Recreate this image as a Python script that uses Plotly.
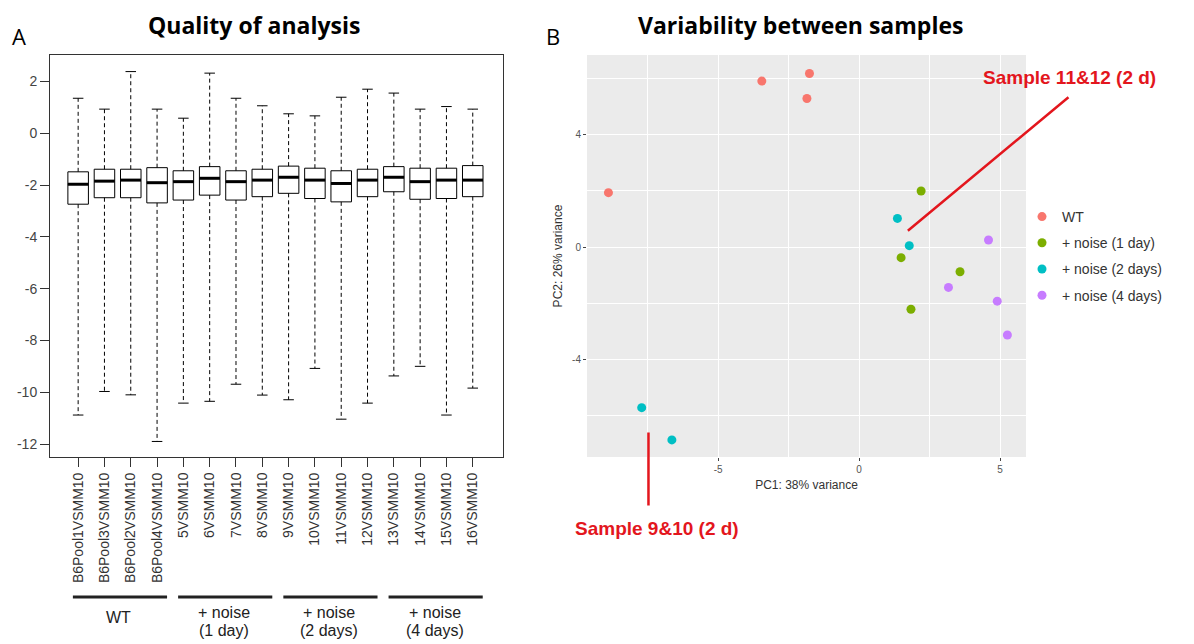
import plotly.graph_objects as go

# ---------------- Data: panel A (box plot summary statistics) ----------------
sample_labels = ["B6Pool1VSMM10", "B6Pool3VSMM10", "B6Pool2VSMM10", "B6Pool4VSMM10",
                 "5VSMM10", "6VSMM10", "7VSMM10", "8VSMM10",
                 "9VSMM10", "10VSMM10", "11VSMM10", "12VSMM10",
                 "13VSMM10", "14VSMM10", "15VSMM10", "16VSMM10"]
box_q1 = [-2.74, -2.49, -2.49, -2.69, -2.58, -2.39, -2.58, -2.45,
          -2.32, -2.52, -2.65, -2.45, -2.26, -2.55, -2.52, -2.45]
box_median = [-1.97, -1.85, -1.81, -1.91, -1.87, -1.74, -1.87, -1.81,
              -1.70, -1.81, -1.94, -1.81, -1.70, -1.87, -1.81, -1.81]
box_q3 = [-1.49, -1.39, -1.39, -1.33, -1.45, -1.29, -1.45, -1.39,
          -1.27, -1.35, -1.45, -1.39, -1.29, -1.35, -1.35, -1.25]
whisker_upper = [1.35, 0.93, 2.38, 0.93, 0.58, 2.32, 1.35, 1.06,
                 0.75, 0.67, 1.39, 1.70, 1.55, 0.93, 1.03, 0.93]
whisker_lower = [-10.88, -9.97, -10.10, -11.90, -10.42, -10.35, -9.69, -10.11,
                 -10.29, -9.08, -11.04, -10.42, -9.37, -9.00, -10.88, -9.84]
y_ticks_a = [2, 0, -2, -4, -6, -8, -10, -12]

group_lines = [["WT"], ["+ noise", "(1 day)"], ["+ noise", "(2 days)"], ["+ noise", "(4 days)"]]
group_first = [1, 5, 9, 13]
group_last = [4, 8, 12, 16]

# ---------------- Data: panel B (PCA) ----------------
pca_groups = ["WT", "+ noise (1 day)", "+ noise (2 days)", "+ noise (4 days)"]
pca_colors = ["#F8766D", "#7CAE00", "#00BFC4", "#C77CFF"]
pc1_values = [[-8.89, -3.45, -1.76, -1.85],
              [2.20, 1.49, 3.58, 1.84],
              [1.36, 1.78, -7.71, -6.64],
              [4.59, 3.17, 4.90, 5.26]]
pc2_values = [[1.94, 5.92, 6.19, 5.30],
              [2.00, -0.38, -0.88, -2.22],
              [1.02, 0.05, -5.73, -6.88],
              [0.25, -1.44, -1.93, -3.14]]
x_ticks_b = [-5, 0, 5]
y_ticks_b = [-4, 0, 4]

# ---------------- Layout helpers (page has an 8px body margin) ----------------
OFF = 8
W, H = 1194 - OFF, 644 - OFF


def px(x):
    return (x - OFF) / W


def py(y):
    return 1 - (y - OFF) / H


positions = list(range(1, len(sample_labels) + 1))
BOX_W = 0.78
CAP_HW = 0.2
RED = "#E3161D"

fig = go.Figure()

# Boxes (hinges) from the library box trace
fig.add_trace(go.Box(
    x=positions, q1=box_q1, median=box_median, q3=box_q3,
    lowerfence=box_q1, upperfence=box_q3,
    width=BOX_W, fillcolor="white", line=dict(color="black", width=1),
    whiskerwidth=0, showlegend=False, hoverinfo="skip",
    xaxis="x", yaxis="y"))

# Dashed whiskers
wx, wy = [], []
for p, lo, q1, q3, hi in zip(positions, whisker_lower, box_q1, box_q3, whisker_upper):
    wx += [p, p, None, p, p, None]
    wy += [q3, hi, None, q1, lo, None]
fig.add_trace(go.Scatter(x=wx, y=wy, mode="lines",
                         line=dict(color="black", width=1, dash="4px,3px"),
                         showlegend=False, hoverinfo="skip", xaxis="x", yaxis="y"))
# Whisker caps
cx, cy = [], []
for p, lo, hi in zip(positions, whisker_lower, whisker_upper):
    cx += [p - CAP_HW, p + CAP_HW, None, p - CAP_HW, p + CAP_HW, None]
    cy += [hi, hi, None, lo, lo, None]
fig.add_trace(go.Scatter(x=cx, y=cy, mode="lines",
                         line=dict(color="black", width=1),
                         showlegend=False, hoverinfo="skip", xaxis="x", yaxis="y"))
# Thick medians
mx, my = [], []
for p, m in zip(positions, box_median):
    mx += [p - BOX_W / 2, p + BOX_W / 2, None]
    my += [m, m, None]
fig.add_trace(go.Scatter(x=mx, y=my, mode="lines",
                         line=dict(color="black", width=3),
                         showlegend=False, hoverinfo="skip", xaxis="x", yaxis="y"))

# PCA scatter
for i, name in enumerate(pca_groups):
    fig.add_trace(go.Scatter(
        x=pc1_values[i], y=pc2_values[i], mode="markers", name=name,
        marker=dict(color=pca_colors[i], size=9),
        legendgroup=name, xaxis="x2", yaxis="y2"))

ydom = [py(457), py(55)]

fig.update_layout(
    width=W, height=H,
    margin=dict(l=0, r=0, t=0, b=0),
    paper_bgcolor="white", plot_bgcolor="white",
    font=dict(family="Liberation Sans, Arial, sans-serif", color="#333333"),
    xaxis=dict(domain=[px(50), px(503)], range=[-0.07, 17.15],
               tickvals=positions, ticktext=sample_labels, tickangle=-90,
               ticks="outside", ticklen=9, tickcolor="#333333",
               tickfont=dict(size=14, color="#333333"),
               showline=True, mirror=True, linecolor="#333333", linewidth=1,
               showgrid=False, zeroline=False, anchor="y"),
    yaxis=dict(domain=ydom, range=[-12.5, 3.02],
               tickvals=y_ticks_a, ticktext=[str(v) for v in y_ticks_a],
               ticks="outside", ticklen=9, tickcolor="#333333",
               tickfont=dict(size=14, color="#444444"),
               showline=True, mirror=True, linecolor="#333333", linewidth=1,
               showgrid=False, zeroline=False, anchor="x"),
    xaxis2=dict(domain=[px(587), px(1026)], range=[-9.65, 5.92],
                tickvals=x_ticks_b, ticktext=[str(v) for v in x_ticks_b],
                ticks="outside", ticklen=3, tickcolor="#444444",
                tickfont=dict(size=10, color="#555555"),
                showgrid=True, gridcolor="white", gridwidth=1.4,
                minor=dict(dtick=2.5, tick0=0, showgrid=True, gridcolor="white", gridwidth=0.6),
                zeroline=False, showline=False, anchor="y2",
                title=dict(text="PC1: 38% variance", font=dict(size=12, color="#333333"), standoff=6)),
    yaxis2=dict(domain=ydom, range=[-7.49, 6.85],
                tickvals=y_ticks_b, ticktext=[str(v) for v in y_ticks_b],
                ticks="outside", ticklen=3, tickcolor="#444444",
                tickfont=dict(size=10, color="#555555"),
                showgrid=True, gridcolor="white", gridwidth=1.4,
                minor=dict(dtick=2, tick0=0, showgrid=True, gridcolor="white", gridwidth=0.6),
                zeroline=False, showline=False, anchor="x2",
                title=dict(text="PC2: 26% variance", font=dict(size=12, color="#333333"), standoff=6)),
    legend=dict(x=px(1022), y=py(201), xanchor="left", yanchor="top",
                font=dict(size=14, color="#333333"), bgcolor="rgba(0,0,0,0)",
                tracegroupgap=5, itemwidth=30),
    showlegend=True,
)

# Grey ggplot panel background
fig.add_shape(type="rect", xref="x2 domain", yref="y2 domain", x0=0, x1=1, y0=0, y1=1,
              fillcolor="#EBEBEB", line=dict(width=0), layer="below")

# Group lines and labels under panel A
for lines, a, b in zip(group_lines, group_first, group_last):
    fig.add_shape(type="line", xref="x", yref="paper", x0=a - 0.2, x1=b + 0.38,
                  y0=py(597), y1=py(597), line=dict(color="#222222", width=3))
    centers = [617] if len(lines) == 1 else [612, 630]
    for txt, yc in zip(lines, centers):
        fig.add_annotation(x=(a + b) / 2 + 0.05, y=py(yc), xref="x", yref="paper",
                           text=txt, showarrow=False, xanchor="center", yanchor="middle",
                           font=dict(size=16, color="#222222"))

# Titles and panel letters
title_font = dict(family="Open Sans, sans-serif", size=23, color="black")
fig.add_annotation(x=px(254), y=py(25), xref="paper", yref="paper",
                   xanchor="center", yanchor="middle",
                   text="<b>Quality of analysis</b>", showarrow=False, font=title_font)
fig.add_annotation(x=px(800), y=py(25), xref="paper", yref="paper",
                   xanchor="center", yanchor="middle",
                   text="<b>Variability between samples</b>", showarrow=False, font=title_font)
letter_font = dict(family="Open Sans, sans-serif", size=22, color="black")
fig.add_annotation(x=px(19), y=py(36), xref="paper", yref="paper",
                   xanchor="center", yanchor="middle",
                   text="A", showarrow=False, font=letter_font)
fig.add_annotation(x=px(553), y=py(36), xref="paper", yref="paper",
                   xanchor="center", yanchor="middle",
                   text="B", showarrow=False, font=letter_font)

# Red call-out lines and labels in panel B
fig.add_annotation(x=1.73, y=0.58, xref="x2", yref="y2", ax=7.48, ay=5.39,
                   axref="x2", ayref="y2", text="", showarrow=True, arrowhead=0,
                   arrowwidth=2.5, arrowcolor=RED, standoff=0, startstandoff=0)
fig.add_annotation(x=-7.47, y=-6.62, xref="x2", yref="y2", ax=-7.47, ay=-9.27,
                   axref="x2", ayref="y2", text="", showarrow=True, arrowhead=0,
                   arrowwidth=2.5, arrowcolor=RED, standoff=0, startstandoff=0)
label_font = dict(family="Liberation Sans, Arial, sans-serif", size=19, color=RED)
fig.add_annotation(x=px(1069), y=py(78), xref="paper", yref="paper",
                   xanchor="center", yanchor="middle",
                   text="<b>Sample 11&12 (2 d)</b>", showarrow=False, font=label_font)
fig.add_annotation(x=px(657), y=py(528), xref="paper", yref="paper",
                   xanchor="center", yanchor="middle",
                   text="<b>Sample 9&10 (2 d)</b>", showarrow=False, font=label_font)

fig.write_html("out.html")
